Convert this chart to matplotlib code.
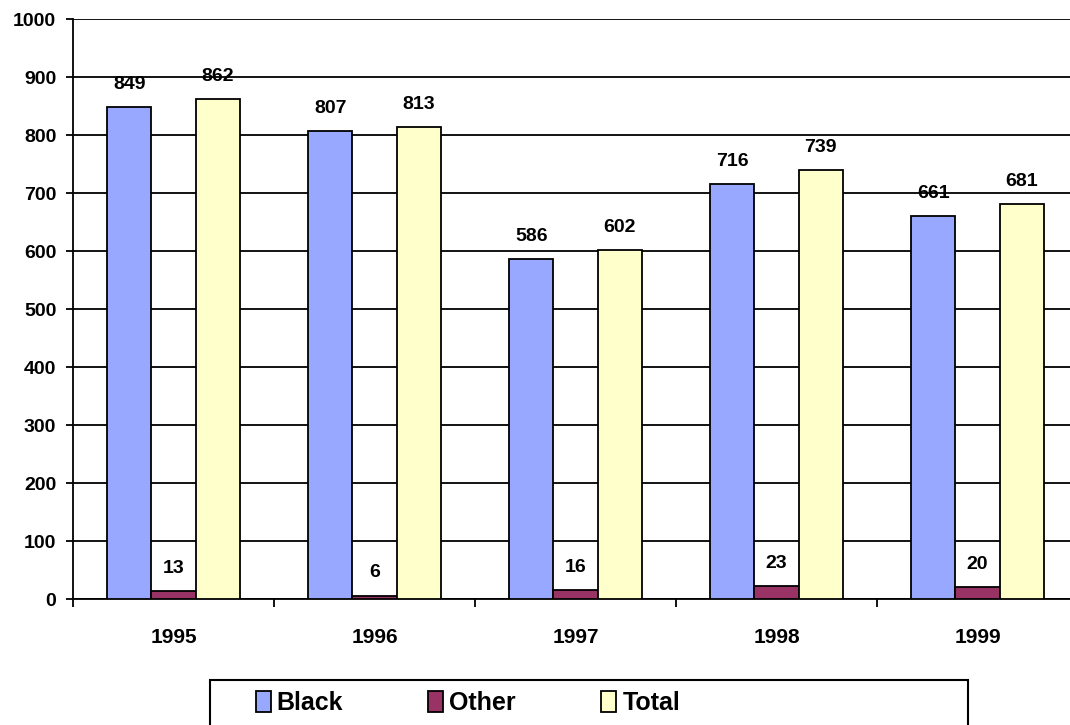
import numpy as np
import matplotlib
matplotlib.use('Agg')
import matplotlib.pyplot as plt
from matplotlib.patches import Rectangle

plt.rcParams['font.family'] = ['Liberation Sans', 'DejaVu Sans']
plt.rcParams['font.weight'] = 'bold'

years = ['1995', '1996', '1997', '1998', '1999']
black = [849, 807, 586, 716, 661]
other = [13, 6, 16, 23, 20]
total = [862, 813, 602, 739, 681]

series = [('Black', black, '#99A8FF'), ('Other', other, '#993366'), ('Total', total, '#FFFFCC')]

fig = plt.figure(figsize=(10.7, 7.25), dpi=100)
ax = fig.add_axes([73 / 1070, 126 / 725, 1005 / 1070, 580 / 725])

x = np.arange(len(years))
w = 0.22
for i, (name, vals, col) in enumerate(series):
    bars = ax.bar(x + (i - 1) * w, vals, w, color=col, edgecolor='black', linewidth=1.3,
                  label=name, zorder=3)
    for b, v in zip(bars, vals):
        ax.annotate(str(v), (b.get_x() + b.get_width() / 2, v), xytext=(0, 13),
                    textcoords='offset points', ha='center', va='baseline',
                    fontsize=14, fontweight='bold', zorder=4)

ax.set_ylim(0, 1000)
ax.set_xlim(-0.5, len(years) - 0.5)
ax.set_yticks(np.arange(0, 1001, 100))
ax.yaxis.grid(True, color='black', linewidth=1.3, zorder=0)
ax.set_axisbelow(True)
for s in ['top', 'right']:
    ax.spines[s].set_visible(False)
ax.spines['left'].set_linewidth(1.3)
ax.spines['bottom'].set_linewidth(1.3)

ax.set_xticks(np.arange(-0.5, len(years), 1.0))
ax.set_xticklabels([])
ax.set_xticks(x, minor=True)
ax.set_xticklabels(years, minor=True, fontsize=15, fontweight='bold')
ax.tick_params(axis='x', which='major', length=6, width=1.3, direction='out')
ax.tick_params(axis='x', which='minor', length=0, pad=21)
ax.tick_params(axis='y', length=5, width=1.3, pad=7, labelsize=14)
for t in ax.get_yticklabels():
    t.set_fontweight('bold')

# legend frame
fig.patches.append(Rectangle((210 / 1070, -0.05), 758 / 1070, 0.05 + 45 / 725,
                             transform=fig.transFigure, facecolor='white',
                             edgecolor='black', linewidth=1.5, zorder=1))
fig.legend(loc='center left', bbox_to_anchor=(233 / 1070, 22 / 725),
           ncol=3, frameon=False, handlelength=0.6, handleheight=0.9,
           handletextpad=0.25, columnspacing=3.4, prop={'weight': 'bold', 'size': 18})

fig.savefig('out.png', dpi=100)
